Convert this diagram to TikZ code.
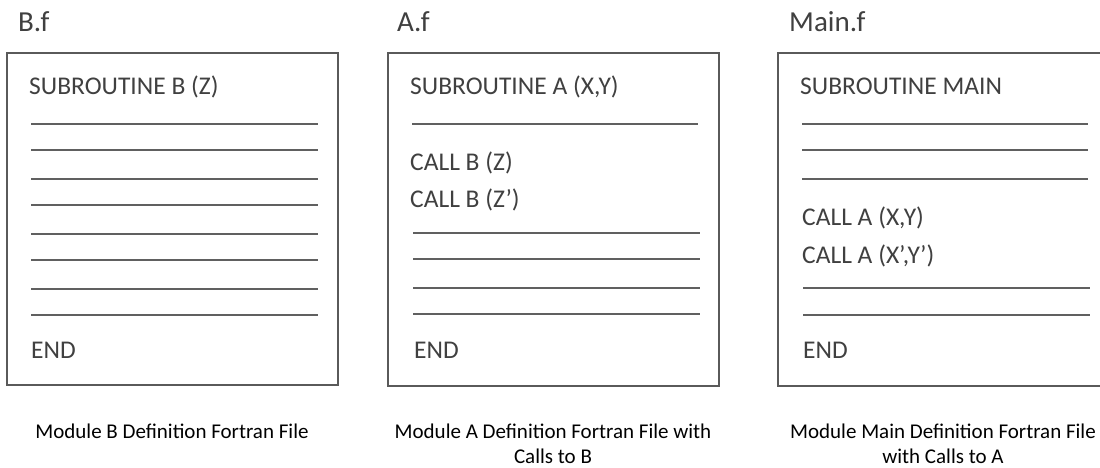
\documentclass[tikz,border=0pt]{standalone}
\usepackage{fontspec}
\setmainfont{Carlito}
\definecolor{boxgray}{HTML}{5A5A5A}
\definecolor{rulegray}{HTML}{606060}
\definecolor{txtgray}{HTML}{404040}
\begin{document}
\begin{tikzpicture}[x=1pt,y=-1pt,
  filebox/.style={draw=boxgray,line width=2.4pt},
  codeline/.style={draw=rulegray,line width=2.6pt},
  code/.style={anchor=base west,inner sep=0pt,text=txtgray,font=\fontsize{25.5}{30}\selectfont},
  ftitle/.style={anchor=base west,inner sep=0pt,text=txtgray,font=\fontsize{29}{34}\selectfont},
  caption/.style={anchor=base,inner sep=0pt,text=black,align=center,font=\fontsize{21}{25}\selectfont}]
\useasboundingbox (0,0) rectangle (1100,468);
\clip (0,0) rectangle (1100,468);
\fill[white] (0,0) rectangle (1100,468);

% ---------- B.f ----------
\node[ftitle] (Btitle) at (18,32) {B.f};
\draw[filebox] (7,53) rectangle (338,385);
\node[code] (Bsub) at (29,95) {SUBROUTINE B (Z)};
\foreach \y in {124,150,179,205,234,260,289,315}
  \draw[codeline] (31,\y) -- (318,\y);
\node[code] (Bend) at (31,358) {END};
\node[caption] (Bcap) at (172,438) {Module B Definition Fortran File};

% ---------- A.f ----------
\node[ftitle] (Atitle) at (397,32) {A.f};
\draw[filebox] (388,53) rectangle (719,386);
\node[code] (Asub) at (410,95) {SUBROUTINE A (X,Y)};
\draw[codeline] (412,124) -- (698,124);
\node[code] (Acall1) at (410,170) {CALL B (Z)};
\node[code] (Acall2) at (410,207) {CALL B (Z’)};
\foreach \y in {233,259,288,314}
  \draw[codeline] (413,\y) -- (700,\y);
\node[code] (Aend) at (414,358) {END};
\node[caption] (Acap) at (553,463) {Module A Definition Fortran File with\\Calls to B};

% ---------- Main.f ----------
\node[ftitle] (Mtitle) at (789,32) {Main.f};
\draw[filebox] (778,53) rectangle (1115,386);
\node[code] (Msub) at (800,95) {SUBROUTINE MAIN};
\foreach \y in {124,150,179}
  \draw[codeline] (802,\y) -- (1088,\y);
\node[code] (Mcall1) at (802,225) {CALL A (X,Y)};
\node[code] (Mcall2) at (802,263) {CALL A (X’,Y’)};
\foreach \y in {288,315}
  \draw[codeline] (803,\y) -- (1090,\y);
\node[code] (Mend) at (803,358) {END};
\node[caption] (Mcap) at (943,463) {Module Main Definition Fortran File\\with Calls to A};
\end{tikzpicture}
\end{document}
